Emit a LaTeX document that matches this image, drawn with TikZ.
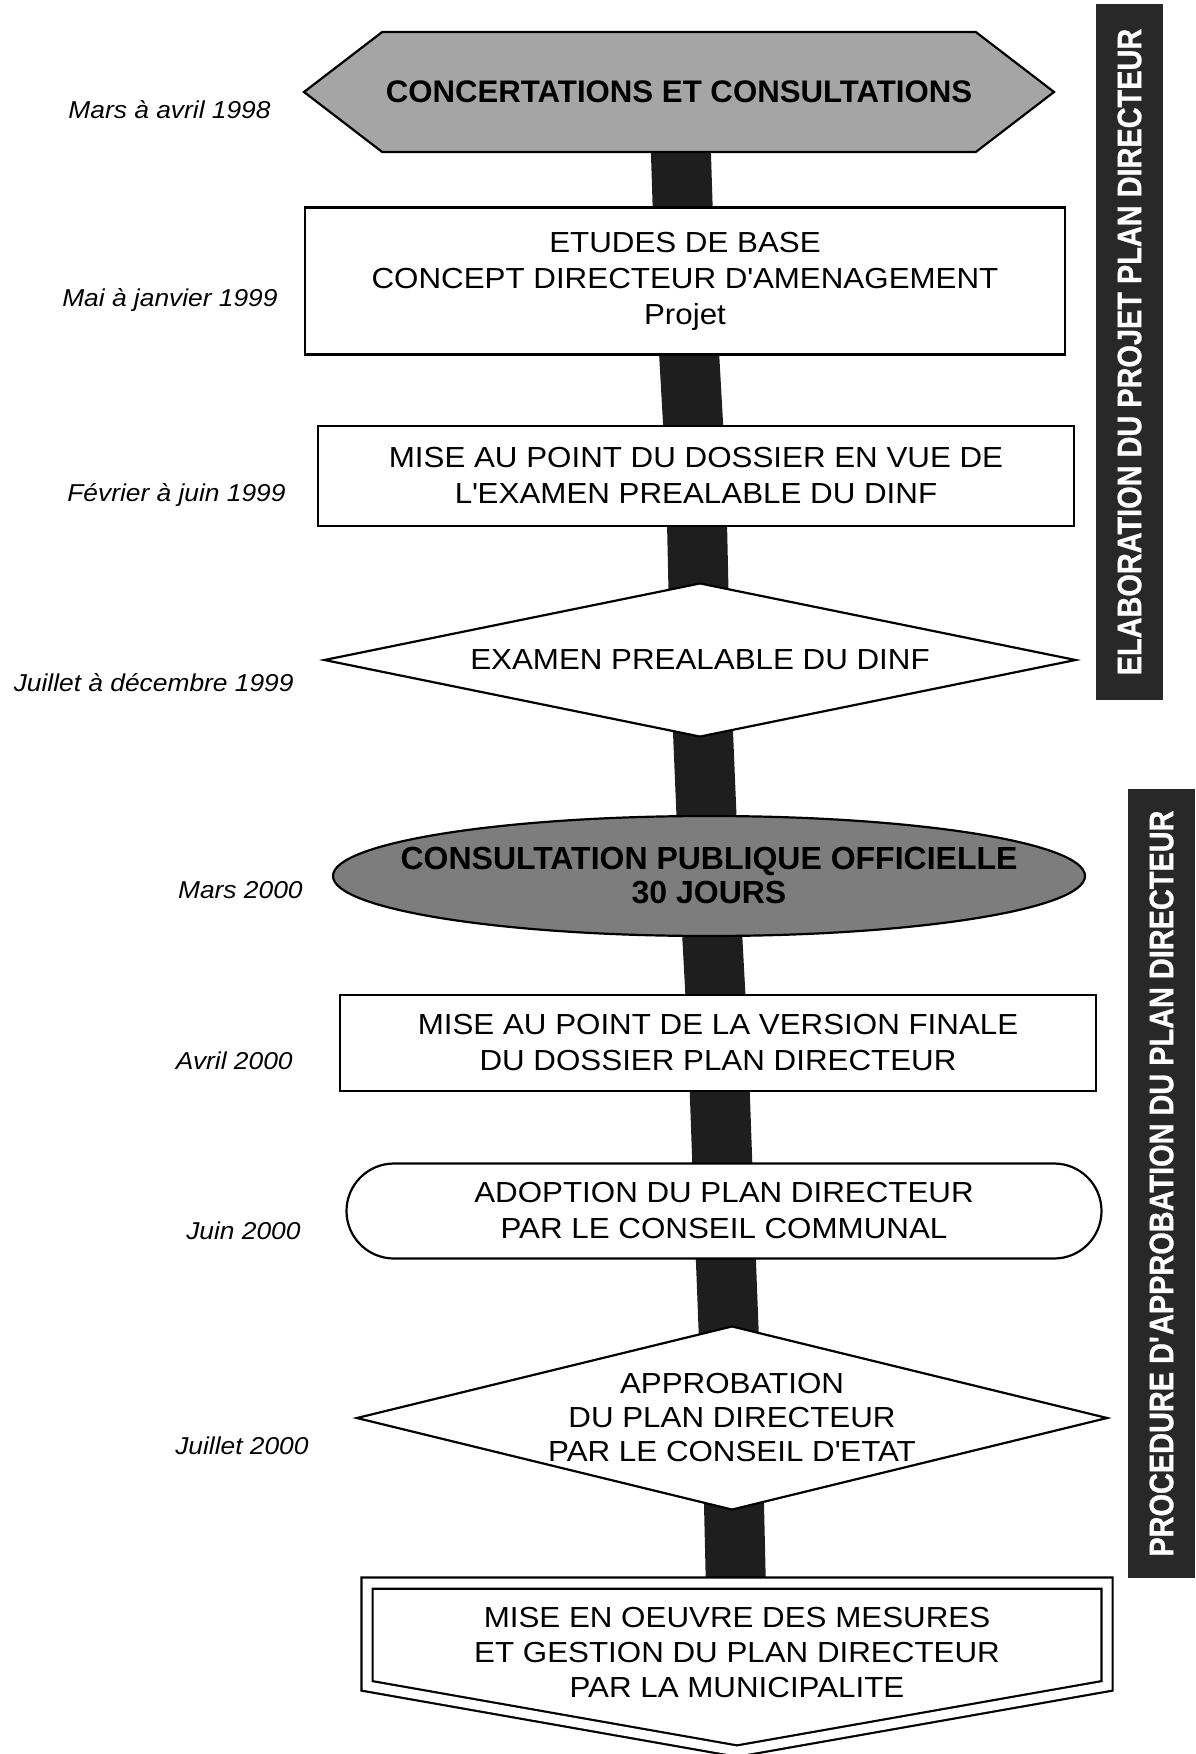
\documentclass[tikz,border=0pt]{standalone}
\usepackage{fontspec}
\setmainfont{Liberation Sans}
\newfontfamily\boxfont{Liberation Sans}[FakeStretch=1.08]
\newfontfamily\barfont{Liberation Sans Bold}[FakeStretch=0.85, FakeBold=0.8]
\usepackage{xcolor}
\usepackage{tikz}
\usetikzlibrary{shapes.geometric, shapes.symbols, shapes.misc, backgrounds}

\definecolor{signgray}{RGB}{165,165,165}
\definecolor{ovalgray}{RGB}{125,125,125}
\definecolor{spineblack}{RGB}{30,30,30}
\definecolor{barblack}{RGB}{40,40,40}

\begin{document}
\begin{tikzpicture}[
        x=0.5pt, y=-0.5pt,
        every node/.style={inner sep=0pt, align=center},
        stage/.style={draw, line width=1.1pt, fill=white, font=\boxfont\fontsize{14.5}{18}\selectfont},
        box/.style={stage, rectangle},
        date/.style={anchor=east, font=\boxfont\itshape\fontsize{12.2}{14}\selectfont},
        bar/.style={fill=barblack, text=white, rotate=90, minimum height=33.5pt, font=\barfont\fontsize{17}{20}\selectfont},
        spine/.style={line width=30pt, draw=spineblack}
    ]
        \useasboundingbox (0,0) rectangle (1195,1754);

        \node (hex) [stage, signal, signal to=west and east, signal pointer angle=75, fill=signgray, minimum width=375pt, minimum height=60pt, font=\bfseries\fontsize{15.6}{18}\selectfont] at (679,92) {CONCERTATIONS ET CONSULTATIONS};
        \node (etudes) [box, minimum width=380pt, minimum height=73.5pt] at (685,281) {ETUDES DE BASE\\CONCEPT DIRECTEUR D\textquotesingle AMENAGEMENT\\Projet};
        \node (dossier) [box, minimum width=378pt, minimum height=50pt] at (696,476) {MISE AU POINT DU DOSSIER EN VUE DE\\L\textquotesingle EXAMEN PREALABLE DU DINF};
        \node (examen) [stage, diamond, aspect=5, inner xsep=-30pt, minimum width=376pt, minimum height=77pt] at (700,660) {EXAMEN PREALABLE DU DINF};
        \node (consult) [stage, ellipse, fill=ovalgray, inner xsep=-60pt, inner ysep=-10pt, minimum width=376pt, minimum height=60pt, font=\bfseries\fontsize{16}{17}\selectfont] at (709,876) {CONSULTATION PUBLIQUE OFFICIELLE\\30 JOURS};
        \node (finale) [box, minimum width=378pt, minimum height=48pt] at (718,1043) {MISE AU POINT DE LA VERSION FINALE\\DU DOSSIER PLAN DIRECTEUR};
        \node (adoption) [stage, rounded rectangle, minimum width=377.5pt, minimum height=47.5pt] at (724,1211) {ADOPTION DU PLAN DIRECTEUR\\PAR LE CONSEIL COMMUNAL};
        \node (approb) [stage, diamond, aspect=4.2, inner xsep=-40pt, inner ysep=-20pt, minimum width=375.5pt, minimum height=92pt, font=\boxfont\fontsize{14.5}{17}\selectfont] at (732,1418) {APPROBATION\\DU PLAN DIRECTEUR\\PAR LE CONSEIL D\textquotesingle ETAT};
        \node (mise) [stage, signal, signal to=south, signal pointer angle=160, double, double distance=4.5pt, text width=370pt, minimum height=84pt, anchor=north] at (737,1582) {};
        \node (misetext) [font=\boxfont\fontsize{14.5}{17.5}\selectfont] at (737,1652) {MISE EN OEUVRE DES MESURES\\ET GESTION DU PLAN DIRECTEUR\\PAR LA MUNICIPALITE};

        \node (d1) [date] at (271,110) {Mars à avril 1998};
        \node (d2) [date] at (278,300) {Mai à janvier 1999};
        \node (d3) [date] at (286,495) {Février à juin 1999};
        \node (d4) [date] at (294,683) {Juillet à décembre 1999};
        \node (d5) [date] at (303,890) {Mars 2000};
        \node (d6) [date] at (293,1061) {Avril 2000};
        \node (d7) [date] at (301,1231) {Juin 2000};
        \node (d8) [date] at (309,1446) {Juillet 2000};

        \node (elab) [bar, minimum width=348pt] at (1129.5,352) {ELABORATION DU PROJET PLAN DIRECTEUR};
        \node (proc) [bar, minimum width=394.5pt] at (1161.5,1183.5) {PROCEDURE D\textquotesingle APPROBATION DU PLAN DIRECTEUR};

        \begin{pgfonlayer}{background}
            \draw [spine] (hex.center) -- (etudes.center) -- (dossier.center) -- (examen.center) -- (consult.center) -- (finale.center) -- (adoption.center) -- (approb.center) -- (mise.center);
        \end{pgfonlayer}
    \end{tikzpicture}
\end{document}
